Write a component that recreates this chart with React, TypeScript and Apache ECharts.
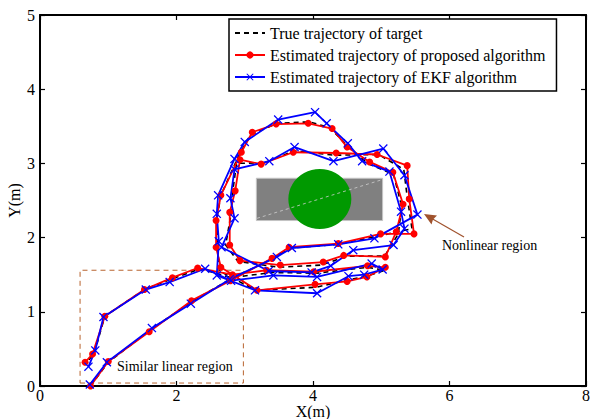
import React, { useEffect, useRef } from "react";
import * as echarts from "echarts";

const seriesNames = [
  "True trajectory of target",
  "Estimated trajectory of proposed algorithm",
  "Estimated trajectory of EKF algorithm",
];

const trueTrajectory = [
  [0.74, 0.0], [1.0, 0.32], [1.61, 0.75], [2.21, 1.13], [2.77, 1.43], [3.44, 1.73], [3.67, 1.86], [4.37, 1.91], [4.95, 2.02], [5.45, 2.12],
  [5.38, 2.55], [5.33, 2.92],
  [4.96, 3.12], [4.32, 3.11], [3.72, 3.17], [3.3, 3.01], [2.88, 3.0],
  [2.82, 2.6], [2.8, 2.32], [2.72, 1.9],
  [2.9, 1.68], [3.5, 1.6], [4.12, 1.63], [4.5, 1.75], [5.05, 1.75],
  [5.25, 2.05], [5.3, 2.42], [5.18, 2.85],
  [4.8, 3.0], [4.52, 3.22], [4.25, 3.48], [3.95, 3.56], [3.47, 3.54], [3.08, 3.38], [2.92, 3.12],
  [2.65, 2.57], [2.59, 2.25], [2.6, 1.88], [2.63, 1.55],
  [3.16, 1.29], [4.04, 1.33], [4.52, 1.43], [4.78, 1.48], [5.05, 1.56],
  [4.8, 1.6], [4.05, 1.52], [3.4, 1.53], [2.8, 1.46], [2.35, 1.58],
  [1.92, 1.44], [1.53, 1.3], [0.95, 0.94], [0.8, 0.46], [0.68, 0.3],
];

const proposedTrajectory = [
  [0.74, 0.0], [1.0, 0.33], [1.6, 0.73], [2.22, 1.15], [2.79, 1.42], [3.4, 1.72], [3.65, 1.87], [4.37, 1.92], [4.99, 2.05], [5.48, 2.05],
  [5.41, 2.52], [5.38, 2.97],
  [4.94, 3.12], [4.34, 3.14], [3.71, 3.15], [3.24, 2.99], [2.93, 3.05],
  [2.86, 2.63], [2.78, 2.34], [2.78, 1.9],
  [2.93, 1.69], [3.52, 1.63], [4.15, 1.67], [4.45, 1.76], [5.06, 1.74],
  [5.22, 2.08], [5.32, 2.45], [5.17, 2.88],
  [4.83, 3.02], [4.5, 3.22], [4.28, 3.47], [3.93, 3.54], [3.46, 3.53], [3.11, 3.42], [2.95, 3.15],
  [2.65, 2.57], [2.58, 2.23], [2.58, 1.87], [2.65, 1.6],
  [3.18, 1.29], [4.03, 1.37], [4.5, 1.41], [4.79, 1.47], [5.06, 1.6],
  [4.8, 1.62], [4.01, 1.54], [3.32, 1.56], [2.82, 1.5], [2.31, 1.59],
  [1.94, 1.46], [1.53, 1.3], [0.95, 0.94], [0.77, 0.43], [0.66, 0.32],
];

const ekfTrajectory = [
  [0.73, 0.02], [0.98, 0.32], [1.64, 0.78], [2.21, 1.11], [2.78, 1.44], [3.47, 1.74], [3.69, 1.86], [4.37, 1.91], [4.9, 1.99], [5.53, 2.31],
  [5.34, 2.84],
  [5.03, 3.2], [4.3, 3.03], [3.73, 3.22], [3.36, 3.03], [2.85, 2.92],
  [2.79, 2.53], [2.85, 2.26], [2.66, 1.87],
  [3.35, 1.55], [3.98, 1.53], [4.26, 1.62], [4.59, 1.83], [5.18, 1.9],
  [5.34, 2.12], [5.29, 2.35], [5.12, 2.89],
  [4.72, 3.03], [4.51, 3.27], [4.2, 3.54], [4.03, 3.69], [3.49, 3.59], [3.0, 3.29], [2.85, 3.06],
  [2.61, 2.57], [2.59, 2.32], [2.62, 1.95], [2.59, 1.49],
  [3.15, 1.29], [4.06, 1.25], [4.52, 1.48], [4.75, 1.5], [5.02, 1.57],
  [4.86, 1.65], [4.06, 1.47], [3.42, 1.49], [2.8, 1.42], [2.42, 1.58],
  [1.9, 1.4], [1.55, 1.3], [0.93, 0.93], [0.81, 0.48], [0.71, 0.26],
];

// obstacle: rectangle [xMin, yMin, xMax, yMax], its diagonal, and the circle centre
const obstacleRect = [[3.17, 2.23, 5.02, 2.8]];
const obstacleDiagonal = [[3.18, 2.26], [5.01, 2.78]];
const obstacleCircle = [[4.1, 2.52]];

// "similar linear region" box corners
const linearRegionBox = [[0.587, 0.04], [2.98, 0.04], [2.98, 1.56], [0.587, 1.56], [0.587, 0.04]];

const xTicks = { min: 0, max: 8, interval: 2 };
const yTicks = { min: 0, max: 5, interval: 1 };

const FONT = "Liberation Serif";
const CROSS = "path://M0,1L1,0L5,4L9,0L10,1L6,5L10,9L9,10L5,6L1,10L0,9L4,5Z";

export default function App() {
  const ref = useRef<HTMLDivElement>(null);
  useEffect(() => {
    if (!ref.current) return;
    const chart = echarts.init(ref.current, null, { renderer: "svg" });
    const axisCommon = {
      axisLine: { show: true, onZero: false, lineStyle: { color: "#000", width: 2 } },
      axisTick: { show: true, inside: true, length: 5, lineStyle: { color: "#000", width: 1.2 } },
      splitLine: { show: false },
    };
    chart.setOption({
      animation: false,
      backgroundColor: "#fff",
      textStyle: { fontFamily: FONT },
      grid: { left: 40, right: 7, top: 15, bottom: 33, containLabel: false, outerBoundsMode: "none" },
      legend: {
        data: [
          { name: seriesNames[0], itemStyle: { opacity: 0 } },
          { name: seriesNames[1] },
          { name: seriesNames[2] },
        ],
        orient: "vertical",
        left: 229,
        top: 19,
        padding: [6, 11, 6, 5],
        itemGap: 6,
        itemWidth: 30,
        itemHeight: 9,
        borderColor: "#000",
        borderWidth: 1.5,
        borderRadius: 0,
        backgroundColor: "#fff",
        textStyle: { fontFamily: FONT, fontSize: 16, color: "#000", lineHeight: 14 },
      },
      xAxis: [
        {
          type: "value",
          ...xTicks,
          ...axisCommon,
          name: "X(m)",
          nameLocation: "middle",
          nameGap: 18,
          nameMoveOverlap: false,
          nameTextStyle: { fontFamily: FONT, fontSize: 16, color: "#000", lineHeight: 14 },
          axisLabel: { color: "#000", fontFamily: FONT, fontSize: 16, margin: 3, lineHeight: 12 },
        },
        {
          type: "value",
          position: "top",
          ...xTicks,
          ...axisCommon,
          axisLabel: { show: false },
        },
      ],
      yAxis: [
        {
          type: "value",
          ...yTicks,
          ...axisCommon,
          name: "Y(m)",
          nameLocation: "middle",
          nameGap: 18,
          nameMoveOverlap: false,
          nameTextStyle: { fontFamily: FONT, fontSize: 16, color: "#000" },
          axisLabel: { color: "#000", fontFamily: FONT, fontSize: 16, margin: 5 },
        },
        {
          type: "value",
          position: "right",
          ...yTicks,
          ...axisCommon,
          axisLabel: { show: false },
        },
      ],
      series: [
        {
          type: "custom",
          silent: true,
          data: obstacleRect,
          encode: { x: [0, 2], y: [1, 3] },
          renderItem: (params: any, api: any) => {
            const p1 = api.coord([api.value(0), api.value(1)]);
            const p2 = api.coord([api.value(2), api.value(3)]);
            return {
              type: "rect",
              shape: { x: p1[0], y: p2[1], width: p2[0] - p1[0], height: p1[1] - p2[1] },
              style: { fill: "#808080", stroke: "#c4c4c4", lineWidth: 1 },
            };
          },
        },
        {
          type: "line",
          silent: true,
          data: obstacleDiagonal,
          symbol: "none",
          lineStyle: { color: "#cfcfcf", width: 0.8, type: [3, 3] },
        },
        {
          type: "scatter",
          silent: true,
          data: obstacleCircle,
          symbol: "circle",
          symbolSize: [63, 60],
          itemStyle: { color: "#009900", opacity: 1 },
        },
        {
          type: "line",
          silent: true,
          data: linearRegionBox,
          symbol: "none",
          lineStyle: { color: "#b8642f", width: 1, type: [5, 4] },
        },
        {
          name: seriesNames[0],
          type: "line",
          data: trueTrajectory,
          symbol: "none",
          lineStyle: { color: "#000", width: 1.6, type: [5, 4] },
          itemStyle: { color: "#000" },
        },
        {
          name: seriesNames[1],
          type: "line",
          data: proposedTrajectory,
          symbol: "circle",
          symbolSize: 7,
          showAllSymbol: true,
          lineStyle: { color: "#ff0000", width: 1.8 },
          itemStyle: { color: "#ff0000" },
        },
        {
          name: seriesNames[2],
          type: "line",
          data: ekfTrajectory,
          symbol: CROSS,
          symbolSize: 9,
          showAllSymbol: true,
          lineStyle: { color: "#0000ff", width: 1.8 },
          itemStyle: { color: "#0000ff" },
        },
      ],
      graphic: [
        {
          type: "text",
          left: 117,
          top: 359,
          style: { text: "Similar linear region", fontFamily: FONT, fontSize: 14, fill: "#000" },
        },
        {
          type: "text",
          left: 442,
          top: 238,
          style: { text: "Nonlinear region", fontFamily: FONT, fontSize: 14, fill: "#000" },
        },
        {
          type: "line",
          shape: { x1: 464, y1: 237, x2: 430, y2: 217.5 },
          style: { stroke: "#a0522d", lineWidth: 1.2 },
        },
        {
          type: "polygon",
          shape: { points: [[424, 214], [437, 215.5], [433, 219.5], [431.5, 224.5]] },
          style: { fill: "#a0522d" },
        },
      ],
    });
    return () => chart.dispose();
  }, []);
  return <div ref={ref} style={{ position: "absolute", left: 0, top: 0, width: 593, height: 419 }} />;
}
